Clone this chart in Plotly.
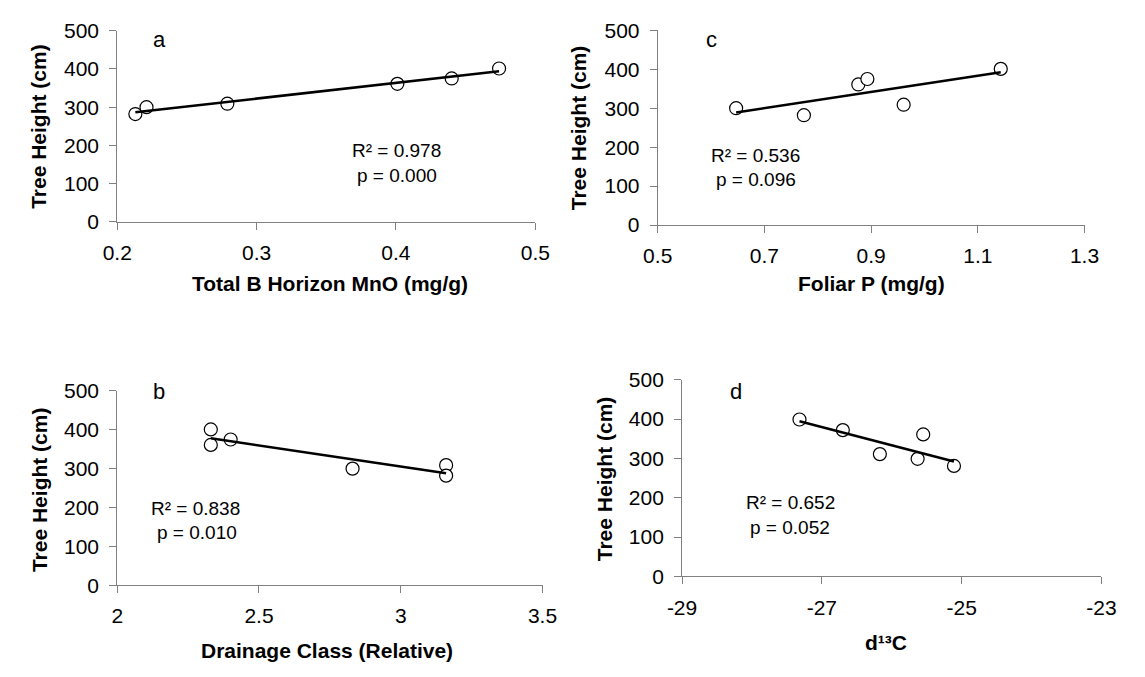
import numpy as np
import plotly.graph_objects as go

W, H = 1145, 677

# ---- data ----
mno_x = [0.213, 0.221, 0.279, 0.401, 0.440, 0.474]
mno_y = [282, 300, 309, 361, 375, 401]

drain_x = [2.33, 2.33, 2.40, 2.83, 3.16, 3.16]
drain_y = [401, 361, 375, 300, 309, 282]

foliarp_x = [0.647, 0.774, 0.876, 0.893, 0.961, 1.143]
foliarp_y = [300, 282, 361, 375, 309, 401]

d13c_x = [-27.32, -26.70, -26.17, -25.63, -25.55, -25.11]
d13c_y = [399, 372, 311, 299, 361, 281]

# tick values / labels
mno_ticks = [0.2, 0.3, 0.4, 0.5]
mno_ticktext = ["0.2", "0.3", "0.4", "0.5"]
drain_ticks = [2, 2.5, 3, 3.5]
drain_ticktext = ["2", "2.5", "3", "3.5"]
foliarp_ticks = [0.5, 0.7, 0.9, 1.1, 1.3]
foliarp_ticktext = ["0.5", "0.7", "0.9", "1.1", "1.3"]
d13c_ticks = [-29, -27, -25, -23]
d13c_ticktext = ["-29", "-27", "-25", "-23"]
height_ticks = [0, 100, 200, 300, 400, 500]
height_ticktext = ["0", "100", "200", "300", "400", "500"]

panel_letters = ["a", "b", "c", "d"]
stats_r2 = ["0.978", "0.838", "0.536", "0.652"]
stats_p = ["0.000", "0.010", "0.096", "0.052"]
x_titles = ["<b>Total B Horizon MnO (mg/g)</b>", "<b>Drainage Class (Relative)</b>",
            "<b>Foliar P (mg/g)</b>", "<b>d\u00b9\u00b3C</b>"]
y_title = "<b>Tree Height (cm)</b>"

FONT = "Arial, Liberation Sans, sans-serif"
AXC = "#808080"


def px(x):
    return x / W


def py(y):
    return 1 - y / H


# plot-area boxes in pixels: left, right, top, bottom
boxes = [
    (105, 534.3, 19.3, 217.3),   # a
    (105, 541.7, 392.3, 593.3),  # b
    (660, 1098.3, 19.0, 220.5),  # c
    (685, 1115.7, 380.7, 584.3), # d
]

datasets = [(mno_x, mno_y), (drain_x, drain_y), (foliarp_x, foliarp_y), (d13c_x, d13c_y)]
xticks = [(mno_ticks, mno_ticktext), (drain_ticks, drain_ticktext),
          (foliarp_ticks, foliarp_ticktext), (d13c_ticks, d13c_ticktext)]

fig = go.Figure()
layout = dict(
    width=W, height=H, margin=dict(l=0, r=0, t=0, b=0),
    paper_bgcolor="white", plot_bgcolor="white", showlegend=False,
    font=dict(family=FONT, color="black", size=21),
)

for i, ((xs, ys), box, (tv, tt)) in enumerate(zip(datasets, boxes, xticks)):
    n = "" if i == 0 else str(i + 1)
    xa, ya = "x" + n, "y" + n
    l, r, t, b = box
    layout["xaxis" + n] = dict(
        domain=[px(l), px(r)], anchor=ya, range=[tv[0], tv[-1]],
        tickmode="array", tickvals=tv, ticktext=tt,
        showline=True, linecolor=AXC, linewidth=1,
        ticks="outside", ticklen=7, tickcolor=AXC, tickwidth=1, showgrid=False,
        zeroline=False, tickfont=dict(size=21, family=FONT, color="black"),
        ticklabelstandoff=5,
    )
    layout["yaxis" + n] = dict(
        domain=[py(b), py(t)], anchor=xa, range=[height_ticks[0], height_ticks[-1]],
        tickmode="array", tickvals=height_ticks, ticktext=height_ticktext,
        showline=True, linecolor=AXC, linewidth=1, ticks="outside", ticklen=7,
        tickcolor=AXC, tickwidth=1, showgrid=False, zeroline=False,
        tickfont=dict(size=21, family=FONT, color="black"),
        ticklabelstandoff=6,
    )
    fig.add_trace(go.Scatter(
        x=xs, y=ys, mode="markers", xaxis=xa, yaxis=ya,
        marker=dict(symbol="circle", size=13, color="white",
                    line=dict(color="black", width=1.2)),
        cliponaxis=False,
    ))
    # least-squares trend line
    k, c0 = np.polyfit(xs, ys, 1)
    fx = np.array([min(xs), max(xs)])
    fig.add_trace(go.Scatter(
        x=fx, y=k * fx + c0, mode="lines", xaxis=xa, yaxis=ya,
        line=dict(color="black", width=2.5), cliponaxis=False,
    ))

ann = []
# x-axis titles (pixel centres)
xt_pos = [(323.6, 281.5), (320, 660.5), (879.7, 281.5), (894, 653)]
for txt, (x, y) in zip(x_titles, xt_pos):
    ann.append(dict(text=txt, x=px(x), y=py(y), xref="paper", yref="paper",
                    xanchor="center", yanchor="middle", showarrow=False,
                    font=dict(size=21, family=FONT, color="black")))
# y-axis titles
yt_pos = [(24.5, 118), (24.5, 494), (579.5, 120), (605.5, 483)]
for (x, y) in yt_pos:
    ann.append(dict(text=y_title, x=px(x), y=py(y), xref="paper", yref="paper",
                    xanchor="center", yanchor="middle", textangle=-90, showarrow=False,
                    font=dict(size=21, family=FONT, color="black")))
# panel letters
lt_pos = [(148, 28.4), (148.3, 392.7), (715.5, 28.4), (740, 392.7)]
for txt, (x, y) in zip(panel_letters, lt_pos):
    ann.append(dict(text=txt, x=px(x), y=py(y), xref="paper", yref="paper",
                    xanchor="center", yanchor="middle", showarrow=False,
                    font=dict(size=22, family=FONT, color="black")))
# statistics
st_pos = [((391.5, 143.6), (392.5, 169.3)), ((185.5, 514.3), (186.6, 538.3)),
          ((760, 148.3), (761, 173.3)), ((796, 507.6), (795.6, 533.6))]
for r2, p, (p1, p2) in zip(stats_r2, stats_p, st_pos):
    ann.append(dict(text="R\u00b2 = " + r2, x=px(p1[0]), y=py(p1[1]),
                    xref="paper", yref="paper", xanchor="center", yanchor="middle",
                    showarrow=False, font=dict(size=19, family=FONT, color="black")))
    ann.append(dict(text="p = " + p, x=px(p2[0]), y=py(p2[1]),
                    xref="paper", yref="paper", xanchor="center", yanchor="middle",
                    showarrow=False, font=dict(size=19, family=FONT, color="black")))

layout["annotations"] = ann
fig.update_layout(**layout)
fig.write_html("out.html")
